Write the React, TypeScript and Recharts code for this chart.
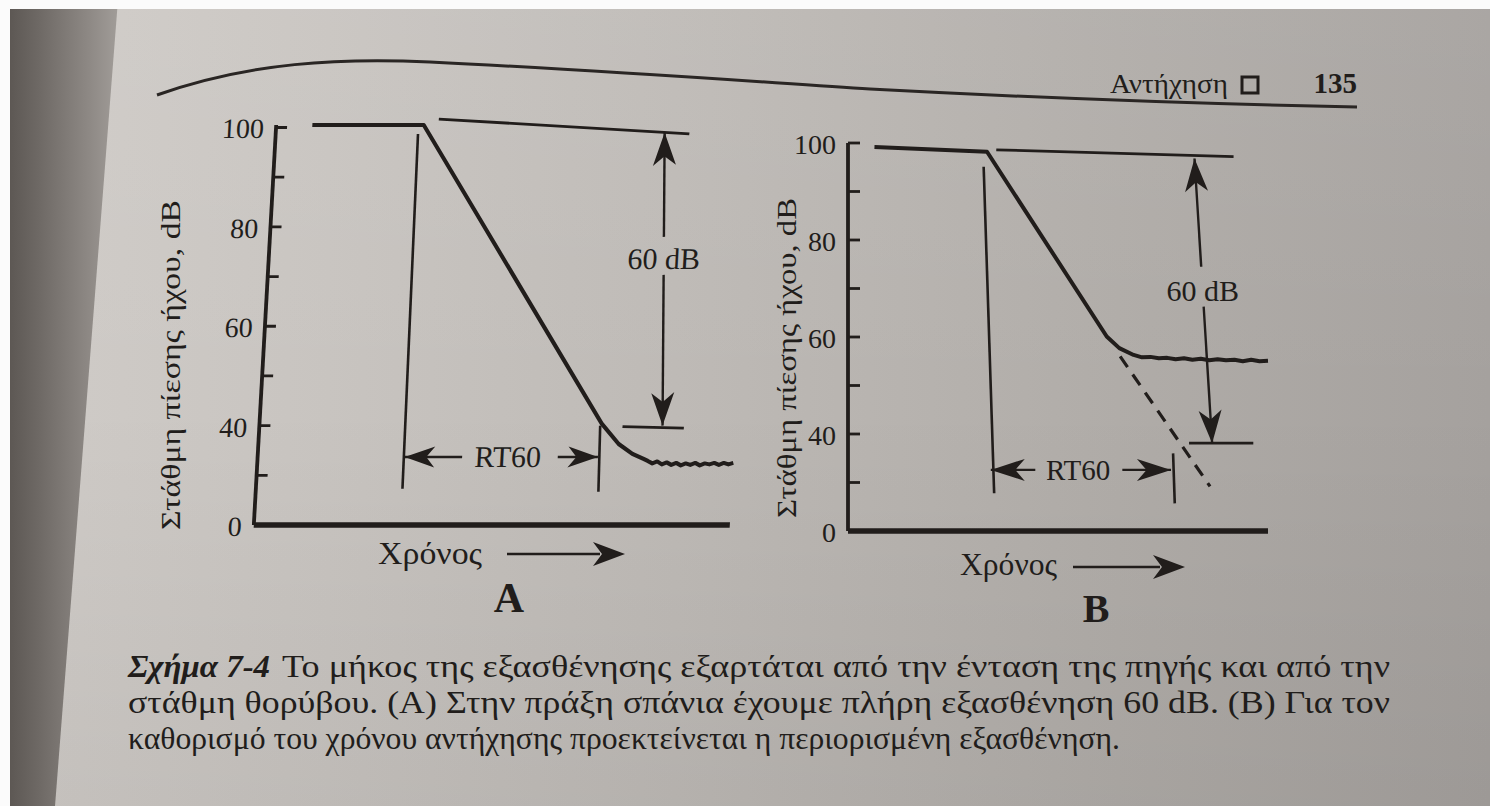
import React from "react";
import { LineChart, Line, XAxis, YAxis, ReferenceLine } from "recharts";

const W = 1490;
const H = 806;
const FONT = "Liberation Serif";
const INK = "#211d1b";

// chart A: relative time (0-100) and sound pressure level, dB
const timeA = [7.6, 31.0, 71.9, 75.7, 78.7, 81.1, 82, 83, 84, 85, 86, 87, 88, 89, 90, 91, 92, 93, 94, 95, 96, 97, 98, 99, 100];
const levelA = [100.5, 100.5, 40.4, 36.3, 34.3, 33.3, 32.9, 32.4, 32.8, 32.2, 32.6, 32.1, 32.5, 32.0, 32.4, 32.1, 32.5, 32.0, 32.4, 32.2, 32.5, 32.1, 32.5, 32.2, 32.5];

// chart B: decay that stops on a high noise floor
const timeB = [6.3, 33.1, 61.6, 64.6, 68.0, 70, 72, 74, 76, 78, 80, 82, 84, 86, 88, 90, 92, 94, 96, 98, 100];
const levelB = [99.2, 98.2, 60.1, 57.7, 56.3, 55.8, 55.9, 55.6, 55.7, 55.4, 55.6, 55.3, 55.5, 55.2, 55.4, 55.2, 55.3, 55.0, 55.3, 55.0, 55.1];

// extrapolated decay in B (dashed)
const extTimeB = [64.8, 86.2];
const extLevelB = [56.0, 29.2];

// y axis: bottom of the axis is printed as "0"
const yTicks = [20, 30, 40, 50, 60, 70, 80, 90, 100];
const yTickLabels = ["0", "", "40", "", "60", "", "80", "", "100"];

const dataA = timeA.map((t, i) => ({ t, level: levelA[i] }));
const dataB = timeB.map((t, i) => ({ t, level: levelB[i] }));
const dataExtB = extTimeB.map((t, i) => ({ t, level: extLevelB[i] }));

type ArrowOpts = {
  gap?: [number, number];
  label?: string;
  labelT?: number;
  headLen: number;
  headW: number;
  fontSize: number;
};

// double-headed arrow drawn between the reference line end points
const arrowShape = (o: ArrowOpts) => (p: any) => {
  const { x1, y1, x2, y2 } = p;
  const dx = x2 - x1;
  const dy = y2 - y1;
  const len = Math.hypot(dx, dy);
  const ux = dx / len;
  const uy = dy / len;
  const nx = -uy;
  const ny = ux;
  const at = (t: number) => [x1 + dx * t, y1 + dy * t];
  const parts: [number, number][] = o.gap ? [[0, o.gap[0]], [o.gap[1], 1]] : [[0, 1]];
  const head = (tx: number, ty: number, sx: number, sy: number) => {
    const L = o.headLen;
    const w = o.headW / 2;
    const bx = tx - sx * L;
    const by = ty - sy * L;
    const cx = tx - sx * L * 0.72;
    const cy = ty - sy * L * 0.72;
    return `${tx},${ty} ${bx + nx * w},${by + ny * w} ${cx},${cy} ${bx - nx * w},${by - ny * w}`;
  };
  const [lx, ly] = at(o.labelT ?? 0.5);
  return (
    <g>
      {parts.map(([a, b], i) => {
        const [ax, ay] = at(a);
        const [bx, by] = at(b);
        return <line key={i} x1={ax} y1={ay} x2={bx} y2={by} stroke={INK} strokeWidth={2.4} />;
      })}
      <polygon points={head(x1, y1, -ux, -uy)} fill={INK} />
      <polygon points={head(x2, y2, ux, uy)} fill={INK} />
      {o.label && (
        <text x={lx} y={ly} textAnchor="middle" dominantBaseline="central" fontFamily={FONT} fontSize={o.fontSize} fill={INK}>
          {o.label}
        </text>
      )}
    </g>
  );
};

const makeTick = (axisX: number, len: number) => (p: any) => {
  const v = p.payload.value;
  const idx = yTicks.indexOf(v);
  return (
    <g>
      {v !== 20 && <line x1={axisX} x2={axisX + len} y1={p.y} y2={p.y} stroke={INK} strokeWidth={2.8} />}
      <text x={axisX - 12} y={p.y + 11} textAnchor="end" fontFamily={FONT} fontSize={28} fill={INK}>
        {yTickLabels[idx]}
      </text>
    </g>
  );
};

const seg = (a: [number, number], b: [number, number], w = 2.6) => (
  <ReferenceLine
    segment={[{ x: a[0], y: a[1] }, { x: b[0], y: b[1] }]}
    stroke={INK}
    strokeWidth={w}
    ifOverflow="visible"
  />
);

const AX_A = 265;
const AX_B = 848;

const ChartA = () => (
  <LineChart width={W} height={H} data={dataA} margin={{ top: 125, right: W - 741, bottom: H - 525 - 1, left: 0 }}>
    <XAxis dataKey="t" type="number" domain={[0, 100]} tick={false} tickLine={false} height={1} axisLine={{ stroke: INK, strokeWidth: 5.5 }} />
    <YAxis
      type="number"
      domain={[20, 100]}
      ticks={yTicks}
      interval={0}
      width={AX_A}
      tickLine={false}
      tick={makeTick(AX_A, 11)}
      axisLine={{ stroke: INK, strokeWidth: 3.8 }}
    />
    <Line type="linear" dataKey="level" stroke={INK} strokeWidth={4} dot={false} isAnimationActive={false} strokeLinejoin="round" />
    {seg([34.1, 101.7], [86.9, 98.7], 2.8)}
    {seg([76.3, 39.8], [89.2, 39.5], 2.8)}
    {seg([29.9, 98.7], [30.8, 27.3])}
    {seg([71.6, 40.0], [72.0, 26.7])}
    <ReferenceLine
      segment={[{ x: 81.7, y: 99.0 }, { x: 84.7, y: 40.0 }]}
      ifOverflow="visible"
      shape={arrowShape({ gap: [0.356, 0.486], label: "60 dB", labelT: 0.43, headLen: 33, headW: 23, fontSize: 30 })}
    />
    <ReferenceLine
      segment={[{ x: 30.9, y: 33.7 }, { x: 71.5, y: 33.7 }]}
      ifOverflow="visible"
      shape={arrowShape({ gap: [0.297, 0.792], label: "RT60", labelT: 0.534, headLen: 30, headW: 21, fontSize: 30 })}
    />
  </LineChart>
);

const ChartB = () => (
  <LineChart width={W} height={H} data={dataB} margin={{ top: 143, right: W - 1268, bottom: H - 531 - 1, left: 0 }}>
    <XAxis dataKey="t" type="number" domain={[0, 100]} tick={false} tickLine={false} height={1} axisLine={{ stroke: INK, strokeWidth: 5.5 }} />
    <YAxis
      type="number"
      domain={[20, 100]}
      ticks={yTicks}
      interval={0}
      width={AX_B}
      tickLine={false}
      tick={makeTick(AX_B, 12)}
      axisLine={{ stroke: INK, strokeWidth: 3.8 }}
    />
    <Line type="linear" dataKey="level" stroke={INK} strokeWidth={4} dot={false} isAnimationActive={false} strokeLinejoin="round" />
    <Line data={dataExtB} type="linear" dataKey="level" stroke={INK} strokeWidth={3.2} strokeDasharray="13 9" dot={false} isAnimationActive={false} />
    {seg([35.3, 98.6], [91.8, 97.2], 2.8)}
    {seg([81.2, 38.1], [96.5, 38.1], 2.8)}
    {seg([32.3, 95.1], [34.8, 27.8])}
    {seg([77.4, 36.0], [77.8, 25.7])}
    <ReferenceLine
      segment={[{ x: 82.5, y: 96.8 }, { x: 86.7, y: 38.1 }]}
      ifOverflow="visible"
      shape={arrowShape({ gap: [0.38, 0.52], label: "60 dB", labelT: 0.462, headLen: 33, headW: 23, fontSize: 30 })}
    />
    <ReferenceLine
      segment={[{ x: 34.0, y: 32.6 }, { x: 76.9, y: 32.6 }]}
      ifOverflow="visible"
      shape={arrowShape({ gap: [0.247, 0.73], label: "RT60", labelT: 0.485, headLen: 34, headW: 22, fontSize: 29 })}
    />
  </LineChart>
);

const txt = { fontFamily: FONT, fill: INK };

const Overlay = () => (
  <svg width={W} height={H} style={{ position: "absolute", left: 0, top: 0, pointerEvents: "none" }}>
    {/* running head */}
    <path d="M157,95 C250,62 340,58 430,62 C600,70 760,82 870,89 C1020,97 1200,104 1357,107" fill="none" stroke="#2a2624" strokeWidth={3} />
    <text x={1110} y={93} fontSize={28} textLength={118} lengthAdjust="spacingAndGlyphs" {...txt}>Αντήχηση</text>
    <rect x={1242} y={77} width={16} height={16} fill="none" stroke={INK} strokeWidth={3} />
    <text x={1357} y={93} fontSize={29} fontWeight="bold" textAnchor="end" {...txt}>135</text>

    {/* axis titles */}
    <text x={170} y={365} fontSize={28} textAnchor="middle" dominantBaseline="central" textLength={330} lengthAdjust="spacingAndGlyphs" transform="rotate(-90 170 365)" {...txt}>
      Στάθμη πίεσης ήχου, dB
    </text>
    <text x={786} y={358} fontSize={28} textAnchor="middle" dominantBaseline="central" textLength={320} lengthAdjust="spacingAndGlyphs" transform="rotate(-90 786 358)" {...txt}>
      Στάθμη πίεσης ήχου, dB
    </text>

    <text x={378} y={564} fontSize={31} textLength={104} lengthAdjust="spacingAndGlyphs" {...txt}>Χρόνος</text>
    <line x1={507} y1={554} x2={600} y2={554} stroke={INK} strokeWidth={2.4} />
    <polygon points="625,554 593,542 602,554 593,566" fill={INK} />
    <text x={509} y={612} fontSize={42} fontWeight="bold" textAnchor="middle" {...txt}>A</text>

    <text x={960} y={575} fontSize={31} textLength={97} lengthAdjust="spacingAndGlyphs" {...txt}>Χρόνος</text>
    <line x1={1073} y1={567} x2={1160} y2={567} stroke={INK} strokeWidth={2.4} />
    <polygon points="1185,567 1153,555 1162,567 1153,579" fill={INK} />
    <text x={1096} y={622} fontSize={40} fontWeight="bold" textAnchor="middle" {...txt}>B</text>

    {/* caption */}
    <text x={128} y={677} fontSize={32} fontWeight="bold" fontStyle="italic" textLength={142} lengthAdjust="spacingAndGlyphs" {...txt}>Σχήμα 7-4</text>
    <text x={282} y={677} fontSize={32} textLength={1108} lengthAdjust="spacingAndGlyphs" {...txt}>
      Το μήκος της εξασθένησης εξαρτάται από την ένταση της πηγής και από την
    </text>
    <text x={128} y={713} fontSize={32} textLength={1262} lengthAdjust="spacingAndGlyphs" {...txt}>
      στάθμη θορύβου. (A) Στην πράξη σπάνια έχουμε πλήρη εξασθένηση 60 dB. (B) Για τον
    </text>
    <text x={128} y={749} fontSize={32} textLength={992} lengthAdjust="spacingAndGlyphs" {...txt}>
      καθορισμό του χρόνου αντήχησης προεκτείνεται η περιορισμένη εξασθένηση.
    </text>
  </svg>
);

export default function App() {
  return (
    <div
      style={{
        position: "absolute",
        left: 0,
        top: 0,
        width: W,
        height: H,
        overflow: "hidden",
        background: "linear-gradient(90deg, #d0ccc8 0%, #c8c4c0 22%, #bcb8b4 50%, #b0aca8 75%, #a5a19e 100%)",
      }}
    >
      <div style={{ position: "absolute", inset: 0, background: "linear-gradient(180deg, rgba(255,255,255,0.06) 0%, rgba(0,0,0,0) 50%, rgba(0,0,0,0.05) 100%)" }} />
      <div
        style={{
          position: "absolute",
          left: 0,
          top: 0,
          width: 130,
          height: H,
          clipPath: "polygon(0 0, 118px 0, 55px 100%, 0 100%)",
          background: "linear-gradient(90deg, #57524e 0%, #6e6965 30%, #8f8a86 70%, #a9a5a1 100%)",
        }}
      />
      <div style={{ position: "absolute", left: 0, top: 0, width: W, height: 9, background: "#fbfbfb" }} />
      <div style={{ position: "absolute", left: 0, top: 0, width: 10, height: H, background: "#fbfbfb" }} />
      <div style={{ position: "absolute", left: 0, top: 0, transform: "skewX(-3.2deg)", transformOrigin: "0px 325px" }}>
        <ChartA />
      </div>
      <div style={{ position: "absolute", left: 0, top: 0 }}>
        <ChartB />
      </div>
      <Overlay />
    </div>
  );
}
